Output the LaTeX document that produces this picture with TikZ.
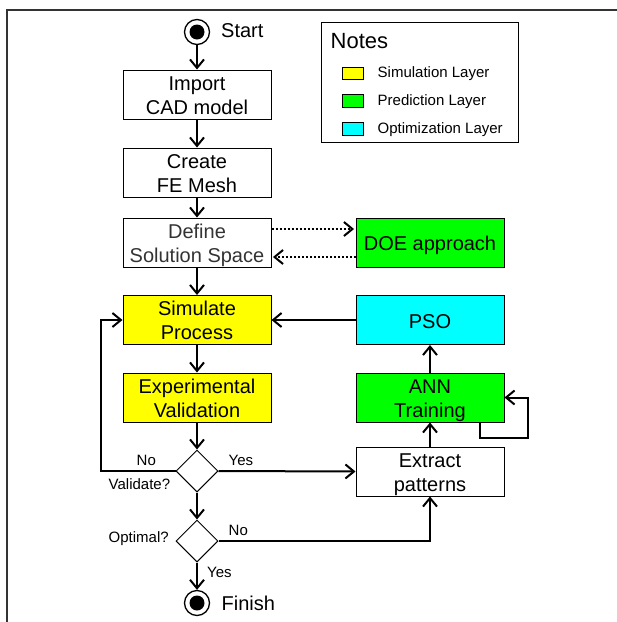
\documentclass[tikz,border=0pt]{standalone}
\usepackage{fontspec}
\setmainfont{Liberation Sans}
\usetikzlibrary{shapes.geometric,arrows.meta,calc}
\begin{document}
\begin{tikzpicture}[x=1pt,y=-1pt,
  box/.style={draw,line width=1pt,minimum width=148pt,minimum height=49pt,inner sep=0pt},
  txt/.style={anchor=base,inner sep=0pt,font=\fontsize{20}{24}\selectfont},
  dia/.style={draw,diamond,aspect=1,line width=1pt,minimum width=42pt,minimum height=42pt,inner sep=0pt},
  arr/.style={line width=2pt,-{Straight Barb[length=8.5pt,width=14pt,line width=2pt]}},
  dotarr/.style={line width=2pt,dotted,-{Straight Barb[length=8.5pt,width=14pt,line width=2pt,sep]}},
  lab/.style={anchor=base west,font=\fontsize{15}{18}\selectfont,inner sep=0pt},
  big/.style={anchor=base west,font=\fontsize{20}{24}\selectfont,inner sep=0pt},
  term/.style={circle,draw,line width=1.3pt,minimum size=25pt,inner sep=0pt}
]
\useasboundingbox (0,0) rectangle (617,622);
\definecolor{cy}{HTML}{FFFF00}
\definecolor{cg}{HTML}{00FF00}
\definecolor{cc}{HTML}{00FFFF}
% frame
\draw[line width=1.5pt,black!80] (617,10) coordinate (fr1) -- (7,10) coordinate (fr2) -- (7,622) coordinate (fr3);
% terminals
\node[term] (start) at (197,32) {};
\fill (start.center) circle (7.5);
\node[big] (starttxt) at (221,37.3) {Start};
\node[term] (finish) at (197,603) {};
\fill (finish.center) circle (7.5);
\node[big] (fintxt) at (221.5,610) {Finish};
% boxes
\node[box] (imp) at (197,94.5) {};
\node[txt] (imp1) at ($(imp.center)+(0,-4)$) {Import};
\node[txt] (imp2) at ($(imp.center)+(0,20)$) {CAD model};
\node[box] (cre) at (197,172.5) {};
\node[txt] (cre1) at ($(cre.center)+(0,-4)$) {Create};
\node[txt] (cre2) at ($(cre.center)+(0,20)$) {FE Mesh};
\node[box] (def) at (197,242.5) {};
\node[txt,text=black!80] (def1) at ($(def.center)+(0,-4.5)$) {Define};
\node[txt,text=black!80] (def2) at ($(def.center)+(0,19.5)$) {Solution Space};
\node[box,fill=cg] (doe) at (430,242.5) {};
\node[txt] (doe1) at ($(doe.center)+(0,7.5)$) {DOE approach};
\node[box,fill=cy] (sim) at (197,320) {};
\node[txt] (sim1) at ($(sim.center)+(0,-4.5)$) {Simulate};
\node[txt] (sim2) at ($(sim.center)+(0,19.5)$) {Process};
\node[box,fill=cc] (pso) at (430,320) {};
\node[txt] (pso1) at ($(pso.center)+(0,8)$) {PSO};
\node[box,fill=cy] (exp) at (197,397.5) {};
\node[txt] (exp1) at ($(exp.center)+(0,-4.5)$) {Experimental};
\node[txt] (exp2) at ($(exp.center)+(0,19.5)$) {Validation};
\node[box,fill=cg] (ann) at (430,397.5) {};
\node[txt] (ann1) at ($(ann.center)+(0,-4.5)$) {ANN};
\node[txt] (ann2) at ($(ann.center)+(0,19.5)$) {Training};
\node[box] (ext) at (430,471.5) {};
\node[txt] (ext1) at ($(ext.center)+(0,-4.5)$) {Extract};
\node[txt] (ext2) at ($(ext.center)+(0,19.5)$) {patterns};
\node[dia] (val) at (197,471) {};
\node[dia] (opt) at (197,541) {};
% labels
\node[lab] (l1) at (136.5,465) {No};
\node[lab] (l2) at (228.5,465) {Yes};
\node[lab] (l3) at (108.5,489.3) {Validate?};
\node[lab] (l4) at (228.5,535) {No};
\node[lab] (l5) at (108.5,542.7) {Optimal?};
\node[lab] (l6) at (207,577.3) {Yes};
% connectors
\draw[arr] (start) -- (imp);
\draw[arr] (imp) -- (cre);
\draw[arr] (cre) -- (def);
\draw[arr] (def) -- (sim);
\draw[arr] (sim) -- (exp);
\draw[arr] (exp) -- (val);
\draw[arr] (val) -- (opt);
\draw[arr] (opt) -- (finish);
\draw[dotarr] ($(def.east)+(0,-13.5)$) -- ($(doe.west)+(0,-13.5)$);
\draw[dotarr] ($(doe.west)+(0,14.5)$) -- ($(def.east)+(0,14.5)$);
\draw[arr] (pso) -- (sim);
\draw[arr] (ann) -- (pso);
\draw[arr] (ext) -- (ann);
\draw[arr] (val.east) -- (ext.west);
\draw[arr] (opt.east) -| (ext.south);
\draw[arr] (val.west) -- ++(-75,0) |- (sim.west);
\draw[arr] ($(ann.south east)+(-25,0)$) -- ++(0,15) -- ++(48,0) |- (ann.east);
% notes
\draw[line width=1pt] (321,22) rectangle (518,142);
\node[anchor=base west,inner sep=0pt,font=\fontsize{22}{26}\selectfont] (notes) at (330.5,48.3) {Notes};
\draw[line width=0.8pt,fill=cy] (342,67) rectangle (363,79);
\draw[line width=0.8pt,fill=cg] (342,94) rectangle (363,107);
\draw[line width=0.8pt,fill=cc] (342,122) rectangle (363,135);
\node[lab] (n1) at (377.5,77.5) {Simulation Layer};
\node[lab] (n2) at (377.5,105.2) {Prediction Layer};
\node[lab] (n3) at (377.5,133.3) {Optimization Layer};
\end{tikzpicture}
\end{document}
